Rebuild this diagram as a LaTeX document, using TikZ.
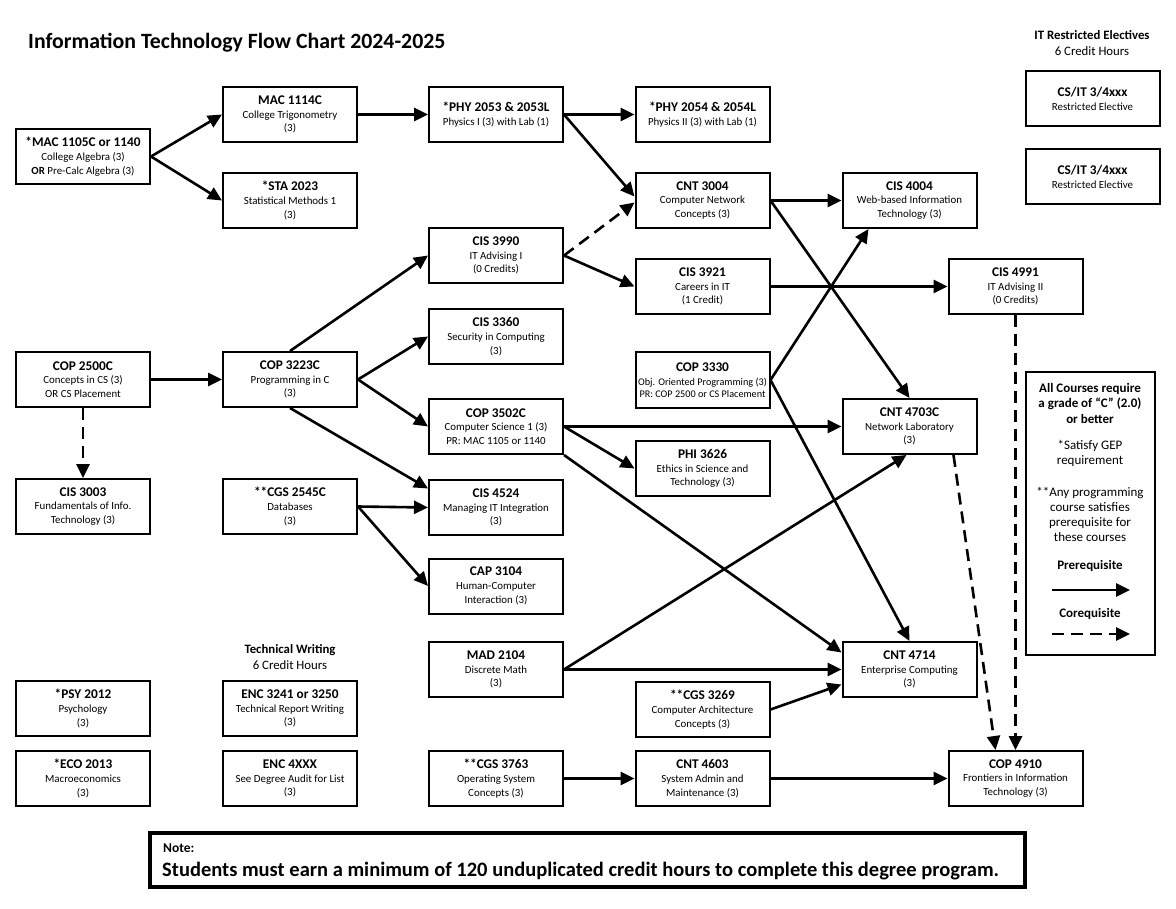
\documentclass[tikz,border=0pt]{standalone}
\usepackage{fontspec}
\setmainfont{Carlito}
\usetikzlibrary{arrows.meta}
\tikzset{
  course/.style={draw, line width=2pt, minimum width=134pt, minimum height=55pt, inner sep=0pt, align=center, font=\fontsize{10.9}{13.8}\selectfont},
  pre/.style={line width=2.6pt, -{Triangle[length=14pt,width=13pt]}},
  co/.style={pre, dash pattern=on 12pt off 7pt},
  txt/.style={inner sep=0pt, align=center},
}
\newcommand{\ct}[1]{{\bfseries\fontsize{13.3}{14}\selectfont #1}}
\begin{document}
\begin{tikzpicture}[x=1pt,y=-1pt]
\useasboundingbox[fill=white] (0,0) rectangle (1176,909);
% title
\node[anchor=base west, inner sep=0pt, font=\bfseries\fontsize{21.8}{26}\selectfont] (title) at (28,49) {Information Technology Flow Chart 2024-2025};
\node[anchor=base, inner sep=0pt, font=\bfseries\fontsize{12.8}{16}\selectfont] (rehead) at (1092,40) {IT Restricted Electives};
\node[anchor=base, inner sep=0pt, font=\fontsize{12.8}{16}\selectfont] (recred) at (1092,56) {6 Credit Hours};
\node[anchor=base, inner sep=0pt, font=\bfseries\fontsize{12.8}{16}\selectfont] (twhead) at (290,653) {Technical Writing};
\node[anchor=base, inner sep=0pt, font=\fontsize{12.8}{16}\selectfont] (twcred) at (290,669) {6 Credit Hours};
% column A
\node[course] (mac1105) at (83,156.5) {\ct{*MAC 1105C or 1140}\\College Algebra (3)\\\textbf{OR} Pre-Calc Algebra (3)};
\node[course] (cop2500) at (83,379.5) {\ct{COP 2500C}\\Concepts in CS (3)\\OR CS Placement};
\node[course] (cis3003) at (83,506.5) {\ct{CIS 3003}\\Fundamentals of Info.\\Technology (3)};
\node[course] (psy2012) at (83,708.5) {\ct{*PSY 2012}\\Psychology\\(3)};
\node[course] (eco2013) at (83,778.5) {\ct{*ECO 2013}\\Macroeconomics\\(3)};
% column B
\node[course] (mac1114) at (290,114.5) {\ct{MAC 1114C}\\College Trigonometry\\(3)};
\node[course] (sta2023) at (290,200.5) {\ct{*STA 2023}\\Statistical Methods 1\\(3)};
\node[course] (cop3223) at (290,379.5) {\ct{COP 3223C}\\Programming in C\\(3)};
\node[course] (cgs2545) at (290,506.5) {\ct{**CGS 2545C}\\Databases\\(3)};
\node[course] (enc3241) at (290,708.5) {\ct{ENC 3241 or 3250}\\Technical Report Writing\\(3)};
\node[course] (enc4xxx) at (290,778.5) {\ct{ENC 4XXX}\\See Degree Audit for List\\(3)};
% column C
\node[course] (phy2053) at (496,114.5) {\ct{*PHY 2053 \& 2053L}\\Physics I (3) with Lab (1)};
\node[course] (cis3990) at (496,255.5) {\ct{CIS 3990}\\IT Advising I\\(0 Credits)};
\node[course] (cis3360) at (496,336.5) {\ct{CIS 3360}\\Security in Computing\\(3)};
\node[course] (cop3502) at (496,426.5) {\ct{COP 3502C}\\Computer Science 1 (3)\\PR: MAC 1105 or 1140};
\node[course] (cis4524) at (496,507.5) {\ct{CIS 4524}\\Managing IT Integration\\(3)};
\node[course] (cap3104) at (496,586) {\ct{CAP 3104}\\Human-Computer\\Interaction (3)};
\node[course] (mad2104) at (496,669.5) {\ct{MAD 2104}\\Discrete Math\\(3)};
\node[course] (cgs3763) at (496,778.5) {\ct{**CGS 3763}\\Operating System\\Concepts (3)};
% column D
\node[course] (phy2054) at (702.5,114.5) {\ct{*PHY 2054 \& 2054L}\\Physics II (3) with Lab (1)};
\node[course] (cnt3004) at (702.5,200.5) {\ct{CNT 3004}\\Computer Network\\Concepts (3)};
\node[course] (cis3921) at (702.5,286.5) {\ct{CIS 3921}\\Careers in IT\\(1 Credit)};
\node[course, font=\fontsize{10.2}{12.2}\selectfont] (cop3330) at (702.5,380) {\ct{COP 3330}\\[2pt]Obj. Oriented Programming (3)\\PR: COP 2500 or CS Placement};
\node[course] (phi3626) at (702.5,468.5) {\ct{PHI 3626}\\Ethics in Science and\\Technology (3)};
\node[course] (cgs3269) at (702.5,709.5) {\ct{**CGS 3269}\\Computer Architecture\\Concepts (3)};
\node[course] (cnt4603) at (702.5,778.5) {\ct{CNT 4603}\\System Admin and\\Maintenance (3)};
% column E
\node[course] (cis4004) at (909.5,200.5) {\ct{CIS 4004}\\Web-based Information\\Technology (3)};
\node[course] (cnt4703) at (909.5,426.5) {\ct{CNT 4703C}\\Network Laboratory\\(3)};
\node[course] (cnt4714) at (909.5,669.5) {\ct{CNT 4714}\\Enterprise Computing\\(3)};
% column F
\node[course] (cis4991) at (1015.5,286.5) {\ct{CIS 4991}\\IT Advising II\\(0 Credits)};
\node[course] (cop4910) at (1015.5,778.5) {\ct{COP 4910}\\Frontiers in Information\\Technology (3)};
% electives
\node[course] (csit1) at (1092.5,98.5) {\ct{CS/IT 3/4xxx}\\Restricted Elective};
\node[course] (csit2) at (1092.5,176.5) {\ct{CS/IT 3/4xxx}\\Restricted Elective};
% legend
\node[draw, line width=2pt, minimum width=129pt, minimum height=283pt, inner sep=0pt] (legend) at (1090.5,513.5) {};
\node[txt, font=\bfseries\fontsize{13}{15.5}\selectfont] (legA) at (1090,403) {All Courses require\\a grade of “C” (2.0)\\or better};
\node[txt, font=\fontsize{13}{15.5}\selectfont] (legB) at (1090,453.5) {*Satisfy GEP\\requirement};
\node[txt, font=\fontsize{13}{15}\selectfont] (legC) at (1090,514.5) {**Any programming\\course satisfies\\prerequisite for\\these courses};
\node[txt, font=\bfseries\fontsize{13}{15}\selectfont] (legP) at (1090,566) {Prerequisite};
\node[txt, font=\bfseries\fontsize{13}{15}\selectfont] (legQ) at (1090,614) {Corequisite};
\coordinate (lp1) at (1052,590);
\coordinate (lp2) at (1130,590);
\coordinate (lc1) at (1052,634);
\coordinate (lc2) at (1130,634);
\draw[pre] (lp1) -- (lp2);
\draw[co] (lc1) -- (lc2);
% note
\node[draw, line width=4pt, minimum width=875pt, minimum height=54pt, inner sep=0pt] (note) at (587.5,860) {};
\node[anchor=base west, inner sep=0pt, font=\bfseries\fontsize{13.5}{15}\selectfont] (notehead) at (163,852) {Note:};
\node[anchor=base west, inner sep=0pt, font=\bfseries\fontsize{20.5}{24}\selectfont] (notetext) at (162,876) {Students must earn a minimum of 120 unduplicated credit hours to complete this degree program.};
% connectors
\draw[pre] (mac1105.east) -- (mac1114.west);
\draw[pre] (mac1105.east) -- (sta2023.west);
\draw[pre] (mac1114.east) -- (phy2053.west);
\draw[pre] (phy2053.east) -- (phy2054.west);
\draw[pre] (phy2053.east) -- ([yshift=4pt]cnt3004.west);
\draw[co] (cis3990.east) -- ([yshift=-2pt]cnt3004.west);
\draw[pre] (cnt3004.east) -- (cis4004.west);
\draw[pre] (cnt3004.east) -- (cnt4703.north);
\draw[pre] (cis3990.east) -- (cis3921.west);
\draw[pre] (cis3921.east) -- (cis4991.west);
\draw[pre] (cop3330.east) -- ([xshift=-41pt]cis4004.south);
\draw[pre] (cop3330.east) -- (cnt4714.north);
\draw[pre] (cop2500.east) -- (cop3223.west);
\draw[co] (cop2500.south) -- (cis3003.north);
\draw[pre] (cop3223.north) -- (cis3990.west);
\draw[pre] (cop3223.east) -- (cis3360.west);
\draw[pre] (cop3223.east) -- (cop3502.west);
\draw[pre] (cop3223.south) -- ([yshift=19pt]cis4524.west);
\draw[pre] (cgs2545.east) -- (cis4524.west);
\draw[pre] (cgs2545.east) -- (cap3104.west);
\draw[pre] (cop3502.east) -- (cnt4703.west);
\draw[pre] (cop3502.east) -- (phi3626.west);
\draw[pre] (cop3502.south east) -- ([yshift=17pt]cnt4714.west);
\draw[pre] (mad2104.east) -- (cnt4714.west);
\draw[pre] (mad2104.east) -- ([xshift=-3pt]cnt4703.south);
\draw[pre] (cgs3269.east) -- ([yshift=-15pt]cnt4714.west);
\draw[pre] (cgs3763.east) -- (cnt4603.west);
\draw[pre] (cnt4603.east) -- (cop4910.west);
\draw[co] ([xshift=44pt]cnt4703.south) -- ([xshift=-20pt]cop4910.north);
\draw[co] (cis4991.south) -- (cop4910.north);
\end{tikzpicture}
\end{document}
